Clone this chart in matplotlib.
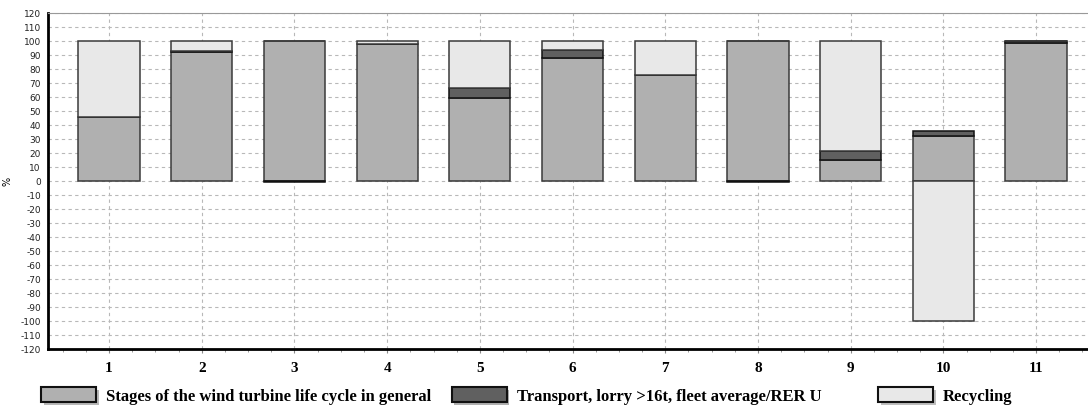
import numpy as np
import matplotlib.pyplot as plt
import matplotlib.patches as mpatches
import matplotlib.patheffects as pe

plt.rcParams['axes.unicode_minus'] = False

# datos (%)
categorias = ['1', '2', '3', '4', '5', '6', '7', '8', '9', '10', '11']
general = [45.5, 92.5, 100, 98, 59, 88, 75.4, 100, 15.3, 32.5, 98.5]
transporte = [0, 0.3, -0.8, 0, 7.3, 5.3, 0, -0.6, 6.2, 3.4, 1.5]
reciclaje = [54.5, 7.2, 0, 2, 33.7, 6.7, 24.6, 0, 78.5, -100, 0]

series = [general, transporte, reciclaje]
nombres = ['Stages of the wind turbine life cycle in general',
           'Transport, lorry >16t, fleet average/RER U',
           'Recycling']
colores = ['#b0b0b0', '#606060', '#e8e8e8']
bordes = ['#3a3a3a', '#111111', '#3a3a3a']

fig = plt.figure(figsize=(10.88, 4.07), dpi=100)
ax = fig.add_axes([0.044, 0.1425, 0.956, 0.8255])

x = np.arange(1, len(categorias) + 1)
pos = np.zeros(len(x))
neg = np.zeros(len(x))
for vals, c, b in zip(series, colores, bordes):
    v = np.array(vals, dtype=float)
    base = np.where(v >= 0, pos, neg)
    ax.bar(x, v, 0.66, bottom=base, color=c, edgecolor=b, linewidth=1.1, zorder=3)
    pos = pos + np.clip(v, 0, None)
    neg = neg + np.clip(v, None, 0)

ax.set_xlim(0.34, 11.56)
ax.set_ylim(-120, 120)
ax.set_yticks(np.arange(-120, 121, 10))
ax.set_xticks(x)
ax.set_xticks(np.arange(0.5, 11.6, 0.25), minor=True)
ax.set_xticklabels(categorias, fontfamily='Liberation Serif', fontweight='bold', fontsize=11)
ax.tick_params(axis='x', which='major', length=3, pad=6, color='#888888')
ax.tick_params(axis='x', which='minor', length=2, color='#888888')
ax.tick_params(axis='y', length=0, pad=5, labelsize=6.5, labelcolor='#222222')
ax.set_ylabel('%', fontsize=7)
ax.yaxis.set_label_coords(-0.034, 0.5)

ax.grid(True, which='major', linestyle=(0, (3, 3)), color='#b8b8b8', linewidth=0.8, zorder=0)
ax.spines['left'].set_linewidth(2)
ax.spines['bottom'].set_linewidth(2)
ax.spines['top'].set_color('#999999')
ax.spines['right'].set_visible(False)

# leyenda: una entrada por posicion, como en el original
sombra = [pe.SimplePatchShadow(offset=(2, -2), alpha=0.35), pe.Normal()]
x_leyenda = [0.038, 0.415, 0.807]
for nombre, c, xl in zip(nombres, colores, x_leyenda):
    h = mpatches.Patch(facecolor=c, edgecolor='#111111', linewidth=1.5, path_effects=sombra)
    fig.legend([h], [nombre], loc='center left', bbox_to_anchor=(xl, 0.027),
               frameon=False, handlelength=3.3, handleheight=1.0, handletextpad=0.6,
               borderpad=0, borderaxespad=0,
               prop={'family': 'Liberation Serif', 'weight': 'bold', 'size': 12})

plt.savefig('out.png', dpi=100)
